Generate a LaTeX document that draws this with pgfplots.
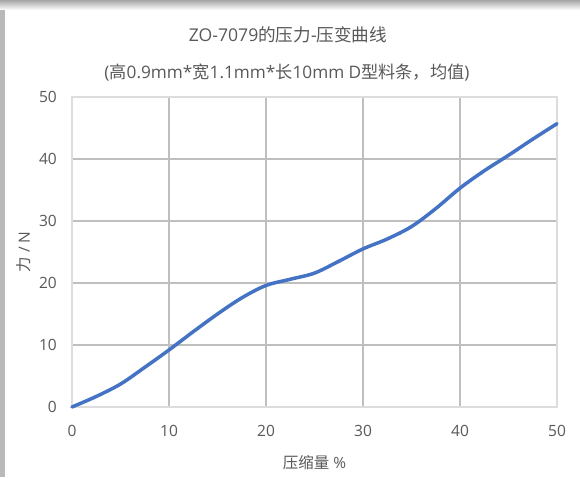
\documentclass[border=0pt]{standalone}
\usepackage{pgfplots}
\pgfplotsset{compat=1.18}
\usepackage{fontspec}
\setmainfont{Open Sans}
\newfontfamily\cjk{Noto Sans CJK SC}
\definecolor{txt}{HTML}{595959}
\definecolor{grid}{HTML}{DDDDDD}
\definecolor{line}{HTML}{4472C4}
\begin{document}
\begin{tikzpicture}[x=1pt,y=1pt]
\useasboundingbox (0,0) rectangle (580,477);
\fill[gray!55] (0,0) rectangle (580,477);
\fill[top color=gray!70, bottom color=white] (0,467) rectangle (580,477);
\fill[white] (5,0) rectangle (580,467);
\node[txt, font=\fontsize{17.6}{20}\selectfont] at (288,442) {ZO-7079{\cjk 的压力}-{\cjk 压变曲线}};
\node[txt, font=\fontsize{17.2}{20}\selectfont] at (287,404) {({\cjk 高}0.9mm*{\cjk 宽}1.1mm*{\cjk 长}10mm D{\cjk 型料条，均值})};
\begin{axis}[
  at={(72pt,70pt)}, anchor=south west,
  width=485pt, height=310pt, scale only axis,
  xmin=0, xmax=50, ymin=0, ymax=50,
  xtick={0,10,...,50}, ytick={0,10,...,50},
  grid=major,
  major grid style={grid, line width=1.4pt},
  axis line style={grid, line width=1.4pt},
  tick style={draw=none},
  tick label style={txt, font=\fontsize{15.5}{18}\selectfont, inner sep=0pt},
  /pgf/number format/assume math mode=true,
  xticklabel style={anchor=center, yshift=-24pt},
  yticklabel style={anchor=east, xshift=-15pt},
  xlabel={{\cjk 压缩量} \%},
  ylabel={{\cjk 力} / N},
  label style={txt, font=\fontsize{15.5}{18}\selectfont},
  xlabel style={at={(axis description cs:0.5,-0.1806)}, anchor=center},
  ylabel style={at={(axis description cs:-0.099,0.5)}, anchor=center},
  clip=false,
]
\addplot[line, line width=3.5pt, smooth, tension=0.55, line cap=round] coordinates {
(0,0) (2.5,1.7) (5,3.7) (7.5,6.4) (10,9.2) (12.5,12.15) (15,15.0)
(17.5,17.6) (20,19.6) (22.5,20.6) (25,21.6) (27.5,23.5) (30,25.5)
(32.5,27.1) (35,29.1) (37.5,32.0) (40,35.3) (42.5,38.1) (45,40.6)
(47.5,43.2) (50,45.7)
};
\end{axis}
\end{tikzpicture}
\end{document}
